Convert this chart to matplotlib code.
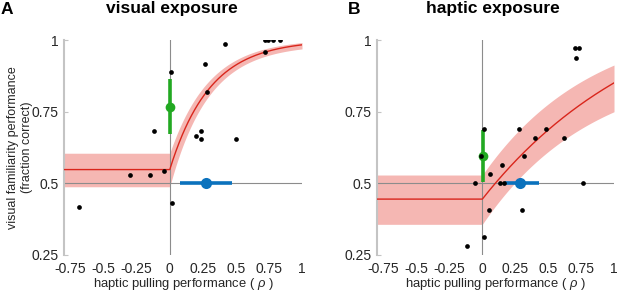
import numpy as np
import matplotlib
matplotlib.use("Agg")
import matplotlib.pyplot as plt

plt.rcParams['font.family'] = ['Liberation Sans', 'DejaVu Sans']
plt.rcParams['mathtext.fontset'] = 'custom'
plt.rcParams['mathtext.rm'] = 'Liberation Sans'
plt.rcParams['mathtext.it'] = 'Liberation Sans:italic'

# ---------------- data ----------------
titles = ["visual exposure", "haptic exposure"]
panel_labels = ["A", "B"]
xticks = [-0.75, -0.5, -0.25, 0, 0.25, 0.5, 0.75, 1]
xtick_labels = ["-0.75", "-0.5", "-0.25", "0", "0.25", "0.5", "0.75", "1"]
yticks = [0.25, 0.5, 0.75, 1]
ytick_labels = ["0.25", "0.5", "0.75", "1"]

# panel A subjects
a_x = [0.72, 0.74, 0.78, 0.83, 0.72, 0.42, 0.27, 0.008, 0.28, -0.116, 0.235,
       0.197, 0.235, 0.50, -0.30, -0.15, -0.04, 0.015, -0.69]
a_y = [1.0, 1.0, 1.0, 1.0, 0.959, 0.987, 0.917, 0.889, 0.82, 0.681, 0.681,
       0.666, 0.654, 0.654, 0.528, 0.528, 0.542, 0.43, 0.416]
# panel B subjects
b_x = [0.70, 0.735, 0.71, 0.015, 0.28, 0.48, 0.40, 0.62, -0.008, 0.313, 0.149,
       0.06, 0.136, 0.161, 0.765, -0.058, 0.053, 0.30, 0.01, -0.12]
b_y = [0.971, 0.971, 0.938, 0.688, 0.688, 0.688, 0.657, 0.657, 0.595, 0.595,
       0.563, 0.531, 0.5, 0.5, 0.5, 0.5, 0.406, 0.406, 0.312, 0.28]

# group means (green: familiarity, blue: pulling) with CIs
a_green = (0.0, 0.767, 0.673, 0.863)
a_blue = (0.273, 0.5, 0.078, 0.47)
b_green = (0.005, 0.595, 0.506, 0.686)
b_blue = (0.283, 0.5, 0.172, 0.427)

# fitted hinge-exponential model: (baseline c, asymptote a, rate k)
a_fit = (0.548, 1.0, 3.29)
a_fit_lo = (0.488, 0.985, 3.43)
a_fit_hi = (0.605, 1.005, 3.35)
b_fit = (0.445, 1.2, 0.77)
b_fit_lo = (0.357, 0.919, 1.2)
b_fit_hi = (0.529, 1.078, 1.2)

RED = '#d9261c'
BAND = '#f5b7b3'
GREEN = '#22a922'
BLUE = '#0b72bd'
TXT = '#262626'


def model(x, p):
    c, a, k = p
    return np.where(x < 0, c, a - (a - c) * np.exp(-k * np.clip(x, 0, None)))


fig = plt.figure(figsize=(6.17, 2.91), dpi=100)
W, H = 617, 291
axA = fig.add_axes([64 / W, 1 - 255 / H, 238 / W, 215 / H])
axB = fig.add_axes([377 / W, 1 - 255 / H, 237 / W, 215 / H])

panels = [
    (axA, a_x, a_y, a_green, a_blue, a_fit, a_fit_lo, a_fit_hi),
    (axB, b_x, b_y, b_green, b_blue, b_fit, b_fit_lo, b_fit_hi),
]

xs = np.concatenate([np.linspace(-0.8, 0, 20), np.linspace(0, 1, 300)])
for ax, px, py, g, b, fit, lo, hi in panels:
    ax.set_xlim(-0.8, 1.0)
    ax.set_ylim(0.25, 1.0)
    ax.fill_between(xs, model(xs, lo), model(xs, hi), color=BAND, lw=0, zorder=1)
    ax.axhline(0.5, color='#8c8c8c', lw=0.8, zorder=2)
    ax.axvline(0.0, color='#8c8c8c', lw=0.8, zorder=2)
    ax.plot(xs, model(xs, fit), color=RED, lw=1.0, zorder=3)
    # green (vertical) errorbar
    ax.plot([g[0], g[0]], [g[2], g[3]], color=GREEN, lw=2.6, zorder=4,
            solid_capstyle='butt')
    ax.plot([g[0]], [g[1]], 'o', color=GREEN, ms=7, mec='none', zorder=4)
    # blue (horizontal) errorbar
    ax.plot([b[2], b[3]], [b[1], b[1]], color=BLUE, lw=2.6, zorder=4,
            solid_capstyle='butt')
    ax.plot([b[0]], [b[1]], 'o', color=BLUE, ms=8, mec='none', zorder=4)
    ax.plot(px, py, 'o', color='black', ms=3.4, mec='none', zorder=5)

    ax.set_xticks(xticks)
    ax.set_xticklabels(xtick_labels)
    ax.set_yticks(yticks)
    ax.set_yticklabels(ytick_labels)
    for s in ['top', 'right', 'bottom']:
        ax.spines[s].set_visible(False)
    ax.spines['left'].set_color('#c4c4c4')
    ax.spines['left'].set_linewidth(1.5)
    ax.tick_params(axis='y', direction='in', length=3, color='#c4c4c4',
                   labelsize=10, pad=4, labelcolor=TXT)
    ax.tick_params(axis='x', length=0, labelsize=10, pad=5, labelcolor=TXT)
    ax.set_xlabel(r"haptic pulling performance ( $\it{\rho}$ )", fontsize=9.4,
                  color=TXT)
    ax.xaxis.set_label_coords(0.5, -(276 - 255) / 215)

fig.text(20 / W, 1 - 147.5 / H,
         "visual familiarity performance\n(fraction correct)",
         rotation=90, ha='center', va='center', fontsize=9, color=TXT,
         linespacing=1.15, multialignment='center')

fig.text(172 / W, 1 - 9 / H, titles[0], ha='center', va='center',
         fontsize=12.5, fontweight='bold')
fig.text(493 / W, 1 - 9 / H, titles[1], ha='center', va='center',
         fontsize=12.5, fontweight='bold')
fig.text(6.5 / W, 1 - 9 / H, panel_labels[0], ha='center', va='center',
         fontsize=12.5, fontweight='bold')
fig.text(354 / W, 1 - 9 / H, panel_labels[1], ha='center', va='center',
         fontsize=12.5, fontweight='bold')

fig.savefig("out.png", dpi=100)
